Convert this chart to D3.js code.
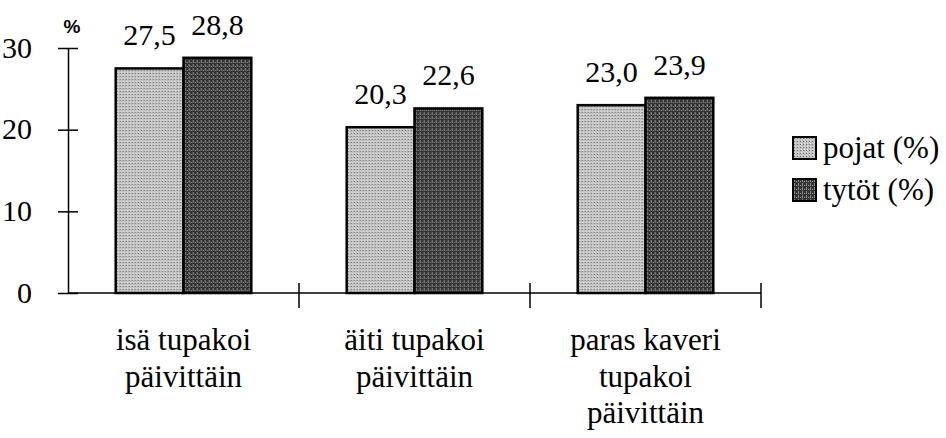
<!DOCTYPE html>
<html>
<head>
<meta charset="utf-8">
<script src="https://cdn.jsdelivr.net/npm/d3@7"></script>
<style>
  @font-face { font-family: "ChartSerif"; src: local("Liberation Serif"), local("LiberationSerif"), local("Times New Roman"); }
  #svg text, #svg tspan { font-family: "Liberation Serif", "ChartSerif", "Times New Roman", "Noto Serif", "DejaVu Serif", serif !important; }
  #svg text.pct { font-family: "Liberation Sans", sans-serif !important; }
</style>
</head>
<body style="margin:0">
<svg id="svg" width="946" height="438"></svg>
<script>

const width = 946;
const height = 438;
const serifFont = '"Liberation Serif", "Times New Roman", serif';

// data
const categories = ["isä tupakoi\npäivittäin", "äiti tupakoi\npäivittäin", "paras kaveri\ntupakoi\npäivittäin"];
const seriesNames = ["pojat (%)", "tytöt (%)"];
const pojat = [27.5, 20.3, 23.0];
const tytot = [28.8, 22.6, 23.9];
const yTicks = [0, 10, 20, 30];

const series = [pojat, tytot];
const colors = ["url(#patPojat)", "url(#patTytot)"];

const fi = d3.formatLocale({ decimal: ",", thousands: " ", grouping: [3], currency: ["", " €"] });
const fmt = fi.format(".1f");

const svg = d3.select("#svg");

// stippled fills like the scanned original
const defs = svg.append("defs");
const p1 = defs.append("pattern").attr("id", "patPojat")
  .attr("width", 3).attr("height", 3).attr("patternUnits", "userSpaceOnUse");
p1.append("rect").attr("width", 3).attr("height", 3).attr("fill", "#c2c2c2");
p1.append("rect").attr("x", 1).attr("y", 1).attr("width", 1).attr("height", 1).attr("fill", "#707070");
p1.append("rect").attr("x", 2).attr("y", 0).attr("width", 1).attr("height", 1).attr("fill", "#e4e4e4");

const p2 = defs.append("pattern").attr("id", "patTytot")
  .attr("width", 4).attr("height", 4).attr("patternUnits", "userSpaceOnUse");
p2.append("rect").attr("width", 4).attr("height", 4).attr("fill", "#333");
p2.append("rect").attr("x", 1).attr("y", 0).attr("width", 1).attr("height", 3).attr("fill", "#8c8c8c");
p2.append("rect").attr("x", 3).attr("y", 2).attr("width", 1).attr("height", 1).attr("fill", "#a0a0a0");

const x = d3.scaleBand()
  .domain(categories)
  .range([68, 761])
  .paddingInner(0.413)
  .paddingOuter(0.2065);

const xs = d3.scaleBand()
  .domain(d3.range(series.length))
  .range([0, x.bandwidth()]);

const y = d3.scaleLinear()
  .domain([0, 30])
  .range([293, 48]);

// bars
const groups = svg.append("g").selectAll("g")
  .data(categories)
  .enter().append("g")
  .attr("transform", d => `translate(${x(d)},0)`);

groups.selectAll("rect")
  .data((d, i) => series.map((s, k) => ({ k: k, v: s[i] })))
  .enter().append("rect")
  .attr("x", d => xs(d.k))
  .attr("y", d => y(d.v))
  .attr("width", xs.bandwidth())
  .attr("height", d => y(0) - y(d.v))
  .attr("fill", d => colors[d.k])
  .attr("stroke", "#000")
  .attr("stroke-width", 2.5);

groups.selectAll("text.val")
  .data((d, i) => series.map((s, k) => ({ k: k, v: s[i] })))
  .enter().append("text")
  .attr("class", "val")
  .attr("x", d => xs(d.k) + xs.bandwidth() / 2)
  .attr("y", d => y(d.v) - 23)
  .attr("text-anchor", "middle")
  .style("font-family", serifFont, "important")
  .style("font-size", "30px")
  .text(d => fmt(d.v));

// y axis
const yAxis = svg.append("g")
  .attr("transform", "translate(68,0)")
  .call(d3.axisLeft(y).tickValues(yTicks).tickSizeOuter(0).tickSizeInner(10).tickPadding(26));
yAxis.attr("font-family", null).attr("font-size", null);
yAxis.select(".domain").attr("stroke-width", 1.5);
yAxis.selectAll(".tick line").attr("x1", -10).attr("x2", 10).attr("stroke-width", 1.5);
yAxis.selectAll(".tick text")
  .style("font-family", serifFont, "important")
  .style("font-size", "30px")
  .attr("dy", "0.3em");

svg.append("text")
  .attr("class", "pct")
  .attr("x", 72)
  .attr("y", 33)
  .attr("text-anchor", "middle")
  .style("font-size", "19px")
  .style("font-weight", "bold")
  .text("%");

// x axis
const x0 = x.range()[0], x1 = x.range()[1];
svg.append("line")
  .attr("x1", x0).attr("x2", x1)
  .attr("y1", y(0)).attr("y2", y(0))
  .attr("stroke", "#000").attr("stroke-width", 1.5);

svg.append("g").selectAll("line")
  .data(categories)
  .enter().append("line")
  .attr("x1", (d, i) => x0 + (i + 1) * x.step())
  .attr("x2", (d, i) => x0 + (i + 1) * x.step())
  .attr("y1", y(0) - 10)
  .attr("y2", y(0) + 15)
  .attr("stroke", "#000").attr("stroke-width", 1.5);

// category labels
const cat = svg.append("g").selectAll("text")
  .data(categories)
  .enter().append("text")
  .attr("text-anchor", "middle")
  .style("font-family", serifFont, "important")
  .style("font-size", "31px");
cat.selectAll("tspan")
  .data(d => d.split("\n").map(t => ({ t: t, c: d })))
  .enter().append("tspan")
  .attr("x", d => x(d.c) + x.bandwidth() / 2)
  .attr("y", (d, i) => 350 + i * 36.5)
  .text(d => d.t);

// legend
const legend = svg.append("g").selectAll("g")
  .data(seriesNames)
  .enter().append("g")
  .attr("transform", (d, i) => `translate(793,${137 + i * 42})`);
legend.append("rect")
  .attr("width", 23).attr("height", 22)
  .attr("fill", (d, i) => colors[i])
  .attr("stroke", "#000").attr("stroke-width", 2);
legend.append("text")
  .attr("x", 30).attr("y", 21)
  .style("font-family", serifFont, "important")
  .style("font-size", "31px")
  .text(d => d);

</script>
</body>
</html>
